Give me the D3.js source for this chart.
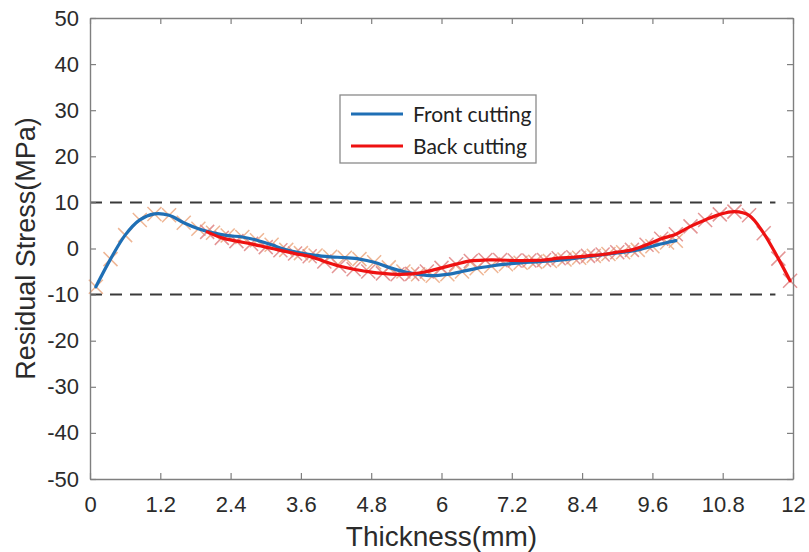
<!DOCTYPE html>
<html>
<head>
<meta charset="utf-8">
<script src="https://cdn.jsdelivr.net/npm/d3@7"></script>
<style>
  body { margin: 0; background: #fff; }
  svg { display: block; }
</style>
</head>
<body>
<div id="chart"></div>
<script>
// thickness positions (mm) and residual stress (MPa)
const thickFront = [0.10, 0.35, 0.60, 0.85, 1.10, 1.35, 1.60, 1.85, 2.10, 2.35,
                    2.60, 2.85, 3.10, 3.35, 3.60, 3.85, 4.10, 4.35, 4.60, 4.85,
                    5.10, 5.35, 5.60, 5.85, 6.10, 6.35, 6.60, 6.85, 7.10, 7.35,
                    7.60, 7.85, 8.10, 8.35, 8.60, 8.85, 9.10, 9.35, 9.60, 9.85, 10.0];
const stressFront = [-8.3, -2.3, 2.9, 6.2, 7.5, 7.2, 5.6, 4.3, 3.4, 2.8,
                     2.5, 1.8, 0.8, -0.3, -1.0, -1.5, -1.8, -2.0, -2.3, -3.0,
                     -4.1, -5.0, -5.6, -5.9, -5.6, -5.0, -4.3, -3.8, -3.4, -3.1,
                     -2.9, -2.7, -2.4, -2.0, -1.6, -1.2, -0.8, -0.3, 0.5, 1.3, 1.7];

const thickBack = [2.00, 2.25, 2.50, 2.75, 3.00, 3.25, 3.50, 3.75, 4.00, 4.25,
                   4.50, 4.75, 5.00, 5.25, 5.50, 5.75, 6.00, 6.25, 6.50, 6.75,
                   7.00, 7.25, 7.50, 7.75, 8.00, 8.25, 8.50, 8.75, 9.00, 9.25,
                   9.50, 9.75, 10.00, 10.25, 10.50, 10.75, 11.00, 11.25, 11.50, 11.75, 11.95];
const stressBack = [3.6, 2.3, 1.6, 1.0, 0.3, -0.4, -1.1, -1.7, -2.8, -3.8,
                    -4.5, -5.0, -5.4, -5.6, -5.5, -5.0, -4.2, -3.4, -2.7, -2.5,
                    -2.5, -2.6, -2.6, -2.5, -2.1, -1.9, -1.6, -1.3, -0.8, -0.3,
                    0.8, 2.1, 3.1, 4.8, 6.2, 7.4, 8.0, 7.2, 3.3, -2.2, -7.0];

const xTicks = [0, 1.2, 2.4, 3.6, 4.8, 6, 7.2, 8.4, 9.6, 10.8, 12];
const xTickLabels = ["0", "1.2", "2.4", "3.6", "4.8", "6", "7.2", "8.4", "9.6", "10.8", "12"];
const yTicks = [-50, -40, -30, -20, -10, 0, 10, 20, 30, 40, 50];

const limitLevels = [10, -10];
const limitSpan = [0, 11.7];

const seriesNames = ["Front cutting", "Back cutting"];
const seriesColors = ["#1f6fb5", "#ee1111"];
const markerColors = ["#eeaf8a", "#e28a8a"];

const width = 809, height = 552;
const margin = {top: 18, right: 16, bottom: 73, left: 90};
const innerW = width - margin.left - margin.right;
const innerH = height - margin.top - margin.bottom;

const svg = d3.select("#chart")
    .append("svg")
        .attr("width", width)
        .attr("height", height);

const g = svg.append("g")
    .attr("transform", `translate(${margin.left}, ${margin.top})`);

const x = d3.scaleLinear().domain([0, 12]).range([0, innerW]);
const y = d3.scaleLinear().domain([-50, 50]).range([innerH, 0]);

const series = [
    {name: seriesNames[0], color: seriesColors[0], mark: markerColors[0],
     pts: thickFront.map((t, i) => [t, stressFront[i]])},
    {name: seriesNames[1], color: seriesColors[1], mark: markerColors[1],
     pts: thickBack.map((t, i) => [t, stressBack[i]])}
];

// dashed limit lines
g.selectAll(".limit")
    .data(limitLevels)
    .enter().append("line")
        .attr("x1", x(limitSpan[0]))
        .attr("x2", x(limitSpan[1]))
        .attr("y1", d => y(d))
        .attr("y2", d => y(d))
        .attr("stroke", "#3a3a3a")
        .attr("stroke-width", 2)
        .attr("stroke-dasharray", "12,8");

// x markers
const arm = 7;
series.forEach(s => {
    g.append("g")
        .attr("stroke", s.mark)
        .attr("stroke-width", 1.5)
        .attr("opacity", 0.9)
        .selectAll("path")
        .data(s.pts)
        .enter().append("path")
            .attr("d", d => {
                const cx = x(d[0]), cy = y(d[1]);
                return `M${cx - arm},${cy - arm}L${cx + arm},${cy + arm}M${cx - arm},${cy + arm}L${cx + arm},${cy - arm}`;
            });
});

const line = d3.line()
    .x(d => x(d[0]))
    .y(d => y(d[1]))
    .curve(d3.curveCatmullRom.alpha(0.5));

series.forEach(s => {
    g.append("path")
        .datum(s.pts)
        .attr("fill", "none")
        .attr("stroke", s.color)
        .attr("stroke-width", 3.2)
        .attr("stroke-linejoin", "round")
        .attr("stroke-linecap", "round")
        .attr("d", line);
});

// axes box with inward ticks
const axisColor = "#7f7f7f";
const tickFont = "'Liberation Sans', Arial, sans-serif";

const xAxisGroup = g.append("g")
    .attr("transform", `translate(0, ${innerH})`)
    .call(d3.axisBottom(x).tickValues(xTicks)
        .tickFormat((d, i) => xTickLabels[i])
        .tickSizeInner(-6).tickSizeOuter(0).tickPadding(17));

const yAxisGroup = g.append("g")
    .call(d3.axisLeft(y).tickValues(yTicks)
        .tickFormat(d => String(d))
        .tickSizeInner(-6).tickSizeOuter(0).tickPadding(11));

const topAxis = g.append("g")
    .call(d3.axisTop(x).tickValues(xTicks).tickFormat("")
        .tickSizeInner(-6).tickSizeOuter(0));

const rightAxis = g.append("g")
    .attr("transform", `translate(${innerW}, 0)`)
    .call(d3.axisRight(y).tickValues(yTicks).tickFormat("")
        .tickSizeInner(-6).tickSizeOuter(0));

[xAxisGroup, yAxisGroup, topAxis, rightAxis].forEach(a => {
    a.select(".domain").attr("stroke", axisColor).attr("stroke-width", 1.4);
    a.selectAll(".tick line").attr("stroke", axisColor).attr("stroke-width", 1.2);
    a.selectAll(".tick text")
        .attr("fill", "#2b2b2b")
        .attr("font-family", tickFont)
        .attr("font-size", 22);
});

// axis titles
svg.append("text")
    .attr("transform", `translate(26, ${margin.top + innerH / 2}) rotate(-90)`)
    .attr("text-anchor", "middle")
    .attr("dominant-baseline", "central")
    .attr("font-family", tickFont)
    .attr("font-size", 27)
    .attr("fill", "#2b2b2b")
    .text("Residual Stress(MPa)");

svg.append("text")
    .attr("x", margin.left + innerW / 2)
    .attr("y", 546)
    .attr("text-anchor", "middle")
    .attr("font-family", tickFont)
    .attr("font-size", 28)
    .attr("fill", "#2b2b2b")
    .text("Thickness(mm)");

// legend
const legend = svg.append("g")
    .attr("transform", "translate(340, 95)");

legend.append("rect")
    .attr("width", 196)
    .attr("height", 68)
    .attr("fill", "#fff")
    .attr("stroke", "#8a8a8a")
    .attr("stroke-width", 1.3);

const items = legend.selectAll(".item")
    .data(series)
    .enter().append("g")
        .attr("transform", (d, i) => `translate(0, ${19 + i * 32})`);

items.append("line")
    .attr("x1", 11).attr("x2", 63)
    .attr("stroke", d => d.color)
    .attr("stroke-width", 3.2);

items.append("text")
    .attr("x", 73)
    .attr("y", 8)
    .attr("font-family", "Lato, 'Open Sans', sans-serif")
    .attr("font-size", 21)
    .attr("fill", "#222")
    .text(d => d.name);
</script>
</body>
</html>
